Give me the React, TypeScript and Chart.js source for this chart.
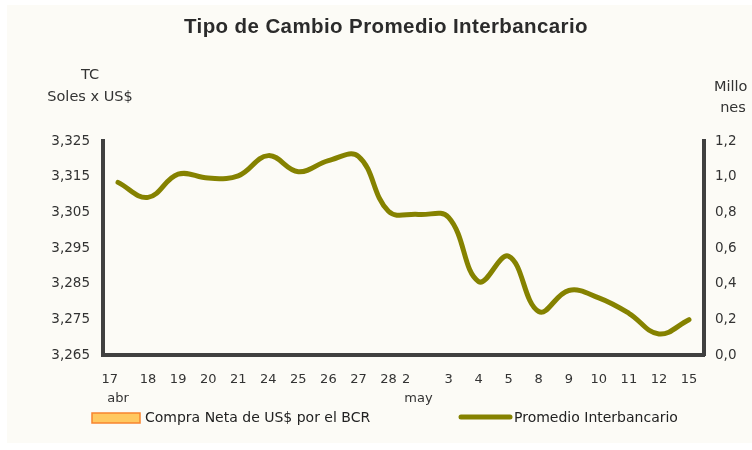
import React, { useEffect, useRef } from "react";
import { Chart, registerables } from "chart.js";

Chart.register(...registerables);

const categories: (string | string[])[] = [
  ["17    ", "abr"], "18", "19", "20", "21", "24", "25", "26", "27", "28",
  ["2      ", "may"], "3", "4", "5", "8", "9", "10", "11", "12", "15",
];

const promedioInterbancario = [
  3.3134, 3.3092, 3.3157, 3.3146, 3.3152, 3.3209, 3.3164, 3.3195, 3.3207, 3.3053,
  3.3044, 3.3036, 3.2856, 3.2927, 3.2772, 3.2831, 3.281, 3.2767, 3.2709, 3.2749,
];

const compraNeta: (number | null)[] = [
  null, null, null, null, null, null, null, null, null, null,
  null, null, null, null, null, null, null, null, null, null,
];

const leftTicks = { min: 3.265, max: 3.325, step: 0.01 };
const rightTicks = { min: 0, max: 1.2, step: 0.2 };

const titleText = "Tipo de Cambio Promedio Interbancario";
const leftAxisTitle = ["TC", "Soles x US$"];
const rightAxisTitle = ["Millo", "nes"];
const seriesNames = ["Compra Neta de US$ por el BCR", "Promedio Interbancario"];

const OLIVE = "#858200";
const AXIS = "#404040";
const TEXT = "#333333";
const FONT = "'DejaVu Sans', Verdana, sans-serif";

const decorPlugin = {
  id: "decor",
  beforeDraw(chart: any) {
    const { ctx, width, height } = chart;
    ctx.save();
    ctx.fillStyle = "#ffffff";
    ctx.fillRect(0, 0, width, height);
    ctx.fillStyle = "#FCFBF6";
    ctx.fillRect(7, 5, width - 7, 438);
    ctx.restore();
  },
  afterDraw(chart: any) {
    const { ctx, chartArea } = chart;
    ctx.save();
    // title
    ctx.fillStyle = "#2b2b2b";
    ctx.font = "bold 20.5px 'Liberation Sans', Arial, sans-serif";
    (ctx as any).letterSpacing = "0.4px";
    ctx.textAlign = "center";
    ctx.textBaseline = "middle";
    ctx.fillText(titleText, 386, 27);
    (ctx as any).letterSpacing = "0px";
    // axis titles
    ctx.font = `14.5px ${FONT}`;
    ctx.fillStyle = TEXT;
    ctx.textAlign = "center";
    ctx.fillText(leftAxisTitle[0], 90, 75);
    ctx.fillText(leftAxisTitle[1], 90, 97);
    ctx.textAlign = "left";
    ctx.fillText(rightAxisTitle[0], chartArea.right + 10, 87);
    ctx.textAlign = "center";
    ctx.fillText(rightAxisTitle[1], chartArea.right + 29, 108);
    // legend
    const ly = 418;
    ctx.font = `14px ${FONT}`;
    ctx.textAlign = "left";
    ctx.textBaseline = "middle";
    const bar = chart.data.datasets[0];
    ctx.fillStyle = bar.backgroundColor;
    ctx.strokeStyle = bar.borderColor;
    ctx.lineWidth = 1.5;
    ctx.fillRect(92, ly - 5, 48, 10);
    ctx.strokeRect(92, ly - 5, 48, 10);
    ctx.fillStyle = "#222222";
    ctx.fillText(bar.label, 145, ly);
    const line = chart.data.datasets[1];
    ctx.strokeStyle = line.borderColor;
    ctx.lineWidth = 5;
    ctx.lineCap = "round";
    ctx.beginPath();
    ctx.moveTo(461, ly - 1);
    ctx.lineTo(510, ly - 1);
    ctx.stroke();
    ctx.fillStyle = "#222222";
    ctx.fillText(line.label, 514, ly);
    // rounded caps on axis tops
    ctx.fillStyle = AXIS;
    ctx.beginPath();
    ctx.arc(chartArea.left, chartArea.top, 2, 0, Math.PI * 2);
    ctx.arc(chartArea.right, chartArea.top, 2, 0, Math.PI * 2);
    ctx.fill();
    ctx.restore();
  },
};

export default function App() {
  const ref = useRef<HTMLCanvasElement | null>(null);

  useEffect(() => {
    document.body.style.margin = "0";
    const canvas = ref.current!;
    const chart = new Chart(canvas, {
      type: "bar",
      data: {
        labels: categories,
        datasets: [
          {
            type: "bar",
            label: seriesNames[0],
            data: compraNeta,
            backgroundColor: "#FFC860",
            borderColor: "#F7842E",
            borderWidth: 1,
            yAxisID: "y1",
            order: 2,
          },
          {
            type: "line",
            label: seriesNames[1],
            data: promedioInterbancario,
            borderColor: OLIVE,
            backgroundColor: OLIVE,
            borderWidth: 5,
            borderCapStyle: "round",
            borderJoinStyle: "round",
            pointRadius: 0,
            tension: 0.4,
            yAxisID: "y",
            order: 1,
          },
        ],
      },
      options: {
        responsive: false,
        animation: false,
        devicePixelRatio: 1,
        layout: { padding: { top: 141, left: 0, right: 0, bottom: 0 } },
        plugins: {
          legend: { display: false },
          title: { display: false },
          tooltip: { enabled: false },
        },
        scales: {
          x: {
            grid: { display: false, drawTicks: false },
            border: { display: true, color: AXIS, width: 4 },
            ticks: {
              color: TEXT,
              font: { family: FONT, size: 13, lineHeight: 1.45 },
              padding: 15,
              maxRotation: 0,
              autoSkip: false,
            },
            afterFit(s: any) {
              s.height = 95;
            },
          },
          y: {
            position: "left",
            min: leftTicks.min,
            max: leftTicks.max,
            grid: { display: false, drawTicks: false },
            border: { display: true, color: AXIS, width: 4 },
            ticks: {
              stepSize: leftTicks.step,
              color: TEXT,
              font: { family: FONT, size: 13.5 },
              padding: 13,
              callback: (v: any) => Number(v).toFixed(3).replace(".", ","),
            },
            afterFit(s: any) {
              s.width = 103;
            },
          },
          y1: {
            position: "right",
            min: rightTicks.min,
            max: rightTicks.max,
            grid: { display: false, drawTicks: false },
            border: { display: true, color: AXIS, width: 4 },
            ticks: {
              stepSize: rightTicks.step,
              color: TEXT,
              font: { family: FONT, size: 13.5 },
              padding: 11,
              callback: (v: any) => Number(v).toFixed(1).replace(".", ","),
            },
            afterFit(s: any) {
              s.width = 48;
            },
          },
        },
      },
      plugins: [decorPlugin],
    });
    return () => chart.destroy();
  }, []);

  return <canvas ref={ref} width={752} height={450} style={{ display: "block" }} />;
}
